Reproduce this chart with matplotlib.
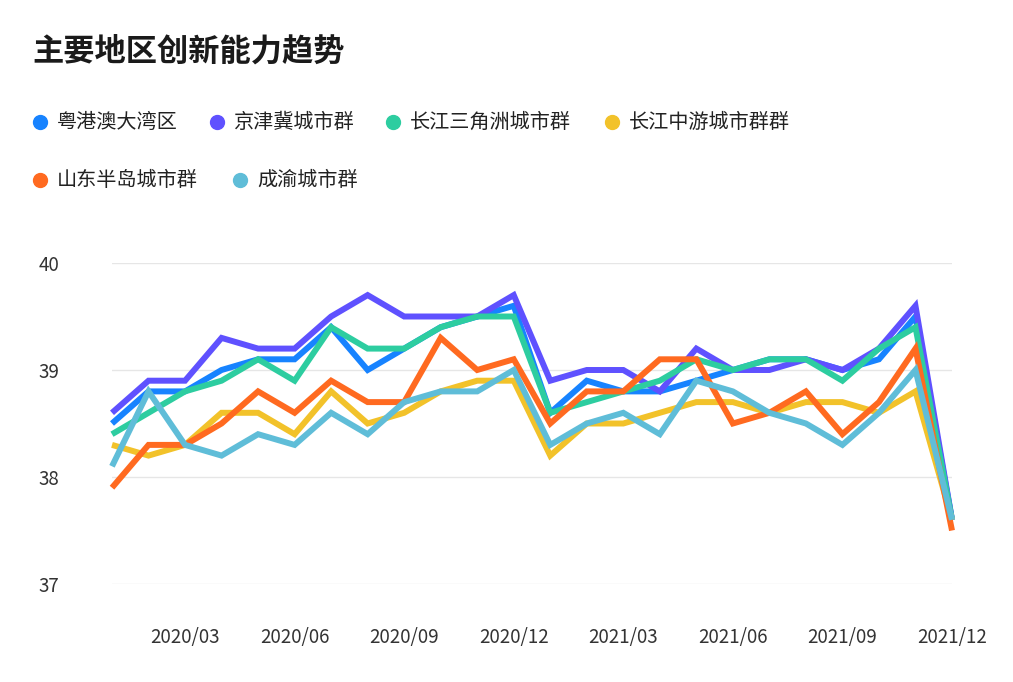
import matplotlib
matplotlib.use("Agg")
import matplotlib.pyplot as plt
from matplotlib.lines import Line2D

plt.rcParams['font.family'] = ['Noto Sans CJK SC', 'DejaVu Sans']

months = ['2020/01','2020/02','2020/03','2020/04','2020/05','2020/06','2020/07','2020/08',
          '2020/09','2020/10','2020/11','2020/12','2021/01','2021/02','2021/03','2021/04',
          '2021/05','2021/06','2021/07','2021/08','2021/09','2021/10','2021/11','2021/12']

series_names = ['粤港澳大湾区', '京津冀城市群', '长江三角洲城市群', '长江中游城市群群', '山东半岛城市群', '成渝城市群']

gba = [38.5, 38.8, 38.8, 39.0, 39.1, 39.1, 39.4, 39.0, 39.2, 39.4, 39.5, 39.6,
       38.6, 38.9, 38.8, 38.8, 38.9, 39.0, 39.1, 39.1, 39.0, 39.1, 39.5, 37.6]
jjj = [38.6, 38.9, 38.9, 39.3, 39.2, 39.2, 39.5, 39.7, 39.5, 39.5, 39.5, 39.7,
       38.9, 39.0, 39.0, 38.8, 39.2, 39.0, 39.0, 39.1, 39.0, 39.2, 39.6, 37.6]
yrd = [38.4, 38.6, 38.8, 38.9, 39.1, 38.9, 39.4, 39.2, 39.2, 39.4, 39.5, 39.5,
       38.6, 38.7, 38.8, 38.9, 39.1, 39.0, 39.1, 39.1, 38.9, 39.2, 39.4, 37.6]
myr = [38.3, 38.2, 38.3, 38.6, 38.6, 38.4, 38.8, 38.5, 38.6, 38.8, 38.9, 38.9,
       38.2, 38.5, 38.5, 38.6, 38.7, 38.7, 38.6, 38.7, 38.7, 38.6, 38.8, 37.6]
sdp = [37.9, 38.3, 38.3, 38.5, 38.8, 38.6, 38.9, 38.7, 38.7, 39.3, 39.0, 39.1,
       38.5, 38.8, 38.8, 39.1, 39.1, 38.5, 38.6, 38.8, 38.4, 38.7, 39.2, 37.5]
cy = [38.1, 38.8, 38.3, 38.2, 38.4, 38.3, 38.6, 38.4, 38.7, 38.8, 38.8, 39.0,
      38.3, 38.5, 38.6, 38.4, 38.9, 38.8, 38.6, 38.5, 38.3, 38.6, 39.0, 37.6]

y_ticks = [37, 38, 39, 40]
x_tick_labels = ['2020/03', '2020/06', '2020/09', '2020/12', '2021/03', '2021/06', '2021/09', '2021/12']

colors = ['#1783ff', '#5f51ff', '#2dcda0', '#f2c22a', '#ff6a20', '#5fbdd8']
data = [gba, jjj, yrd, myr, sdp, cy]

W, H = 1013, 682
fig = plt.figure(figsize=(W/100, H/100), dpi=100)
ax = fig.add_axes([112/W, 1-584/H, 840/W, 321/H])

x = list(range(len(months)))
for vals, c in zip(data, colors):
    ax.plot(x, vals, color=c, lw=4.3, clip_on=False, solid_joinstyle='miter', solid_capstyle='butt')

ax.set_xlim(0, len(months)-1)
ax.set_ylim(37, 40)
ax.set_yticks(y_ticks)
ax.set_yticklabels([str(v) for v in y_ticks])
xt = [months.index(m) for m in x_tick_labels]
ax.set_xticks(xt)
ax.set_xticklabels(x_tick_labels)
for s in ax.spines.values():
    s.set_visible(False)
ax.grid(axis='y', color='#e6e6e6', lw=1)
ax.set_axisbelow(True)
ax.tick_params(axis='both', length=0, labelsize=13.5, colors='#333333')
ax.tick_params(axis='y', pad=53)
ax.tick_params(axis='x', pad=31)
for lab in ax.get_yticklabels():
    lab.set_horizontalalignment('left')

fig.text(32/W, 1-52/H, '主要地区创新能力趋势', fontsize=22.5, fontweight='bold', color='#1a1a1a', va='center', ha='left')

legend_pos = [(40, 122), (217, 122), (393, 122), (612, 122), (40, 180), (240, 180)]
for (px, py), name, c in zip(legend_pos, series_names, colors):
    fig.add_artist(Line2D([px/W], [1-py/H], marker='o', markersize=10, color=c, ls='none',
                          transform=fig.transFigure))
    fig.text((px+17)/W, 1-py/H, name, fontsize=14.5, color='#222222', va='center', ha='left')

fig.savefig('out.png', dpi=100)
